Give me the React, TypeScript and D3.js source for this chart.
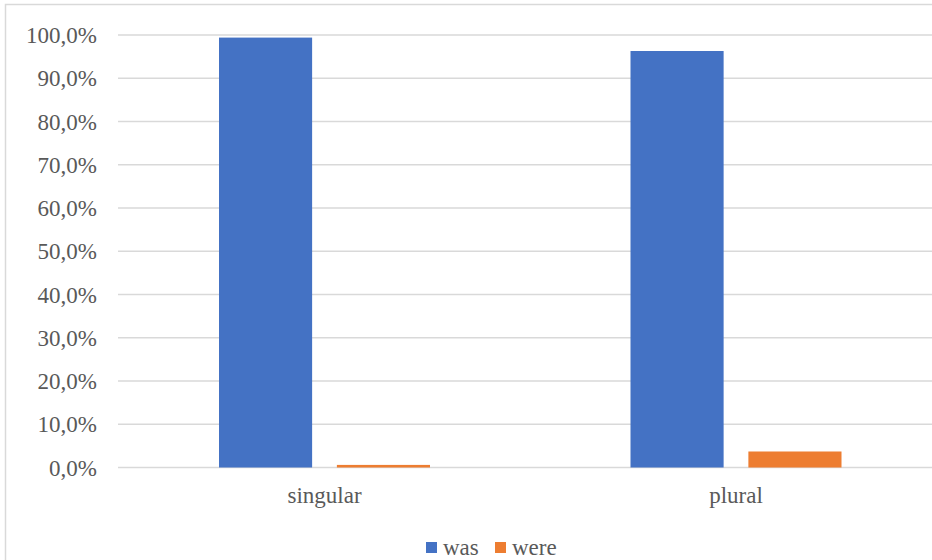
import React from "react";
import * as d3 from "d3";

// Share of "was" vs "were" by subject number
const categories = ["singular", "plural"];
const seriesNames = ["was", "were"];
const wasValues = [99.4, 96.3];
const wereValues = [0.6, 3.7];
const yTicks = [0, 10, 20, 30, 40, 50, 60, 70, 80, 90, 100];
const colors = ["#4472C4", "#ED7D31"];

const W = 932;
const H = 560;
const FONT = "Liberation Serif, Times New Roman, Times, DejaVu Serif, serif";
const TEXT = "#595959";
const GRID = "#d9d9d9";

export default function App() {
  const plotLeft = 118;
  const plotRight = 941;
  const y = d3.scaleLinear().domain([0, 100]).range([467.5, 35]);
  const x0 = d3.scaleBand<string>().domain(categories).range([plotLeft, plotRight]).padding(0);
  const x1 = d3
    .scaleBand<string>()
    .domain(seriesNames)
    .range([101, 312])
    .paddingInner(0.21)
    .paddingOuter(0);

  const seriesValues = [wasValues, wereValues];
  const fmt = (v: number) => v.toFixed(1).replace(".", ",") + "%";
  const textStyle = { fontFamily: FONT, fontSize: "23px", fill: TEXT };

  return (
    <svg
      width={W}
      height={H}
      style={{ position: "absolute", left: 0, top: 0, background: "#fff" }}
    >
      <rect x={0} y={0} width={W} height={H} fill="#fff" />
      {/* chart frame (extends past the right and bottom edges) */}
      <rect x={5.5} y={4.5} width={W + 20} height={H + 20} fill="none" stroke={GRID} strokeWidth={1.5} />

      {yTicks.map((t) => (
        <g key={t}>
          <line x1={plotLeft} x2={W} y1={y(t)} y2={y(t)} stroke={GRID} strokeWidth={1.5} />
          <text x={97} y={y(t) + 8} textAnchor="end" style={textStyle}>
            {fmt(t)}
          </text>
        </g>
      ))}

      {categories.map((c, ci) => (
        <g key={c} transform={`translate(${x0(c)},0)`}>
          {seriesNames.map((s, si) => {
            const v = seriesValues[si][ci];
            return (
              <rect
                key={s}
                x={x1(s)}
                y={y(v)}
                width={x1.bandwidth()}
                height={y(0) - y(v)}
                fill={colors[si]}
              />
            );
          })}
          <text
            x={(x1("was")! + x1("were")! + x1.bandwidth()) / 2}
            y={503}
            textAnchor="middle"
            style={textStyle}
          >
            {c}
          </text>
        </g>
      ))}

      {/* legend */}
      {seriesNames.map((s, si) => {
        const lx = si === 0 ? 426 : 495;
        return (
          <g key={s}>
            <rect x={lx} y={542} width={11} height={11} fill={colors[si]} />
            <text x={lx + 17} y={555} style={textStyle}>
              {s}
            </text>
          </g>
        );
      })}
    </svg>
  );
}
